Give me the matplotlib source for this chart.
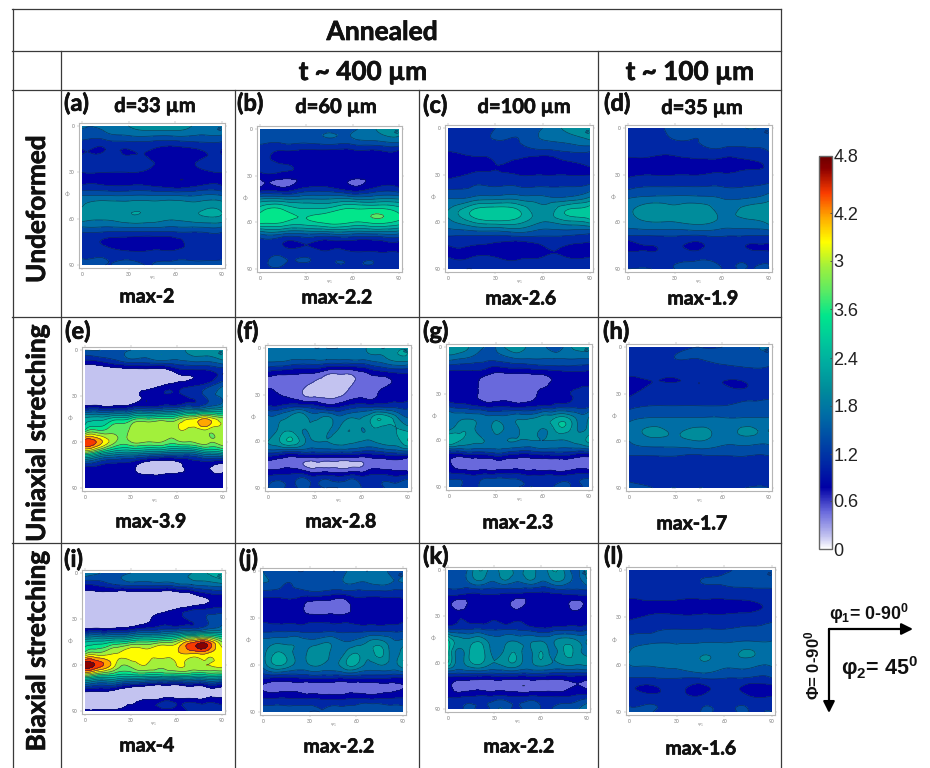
import matplotlib
matplotlib.use('Agg')
import matplotlib.pyplot as plt
import matplotlib.patheffects as pe
import matplotlib.tri as mtri
from matplotlib.cm import ScalarMappable
from matplotlib.colors import LinearSegmentedColormap, Normalize
import numpy as np

plt.rcParams['font.family'] = ['Lato', 'DejaVu Sans']
plt.rcParams['mathtext.default'] = 'regular'

# ----------------------------------------------------------------
# ODF values read by colour against the colour bar, rows are Phi 0-90, columns are phi1 0-90
panel_a = [
    [1.5, 1.6, 1.8, 2.0, 2.0, 1.7, 1.7],
    [1.3, 1.3, 1.4, 1.4, 1.4, 1.4, 1.4],
    [0.9, 0.9, 0.9, 0.9, 0.8, 0.9, 0.9],
    [1.0, 1.1, 1.0, 0.9, 0.8, 0.9, 1.0],
    [0.9, 0.9, 0.9, 0.8, 0.75, 0.8, 0.9],
    [0.85, 0.85, 0.85, 0.8, 0.68, 0.8, 0.85],
    [1.5, 1.5, 1.5, 1.5, 1.5, 1.5, 1.5],
    [1.8, 2.0, 2.0, 2.0, 1.95, 2.0, 2.0],
    [1.9, 1.85, 2.0, 1.95, 1.85, 2.0, 2.0],
    [1.3, 1.3, 1.3, 1.3, 1.3, 1.3, 1.3],
    [1.0, 0.85, 0.75, 0.75, 0.8, 1.0, 1.0],
    [1.1, 1.1, 1.0, 1.0, 1.0, 1.05, 1.1],
    [1.3, 1.2, 1.3, 1.2, 1.3, 1.3, 1.3],
]
panel_b = [
    [1.3, 1.3, 1.4, 1.4, 1.4, 1.8, 1.9],
    [1.3, 1.3, 1.3, 1.4, 1.4, 1.5, 1.6],
    [1.0, 0.85, 0.78, 0.78, 0.78, 0.78, 0.78],
    [1.0, 0.9, 0.78, 0.75, 0.75, 0.75, 0.75],
    [0.75, 0.75, 0.75, 0.75, 0.7, 0.75, 0.75],
    [0.6, 0.6, 0.9, 0.9, 0.65, 0.9, 0.9],
    [1.8, 1.8, 1.8, 1.8, 1.8, 1.8, 1.8],
    [2.6, 2.75, 2.5, 2.6, 2.8, 2.85, 2.6],
    [2.8, 2.7, 2.6, 2.8, 2.7, 2.8, 2.6],
    [1.5, 1.5, 1.5, 1.5, 1.5, 1.5, 1.5],
    [1.0, 0.9, 0.9, 0.8, 0.75, 0.75, 0.75],
    [1.1, 1.2, 1.2, 1.1, 1.1, 1.1, 1.1],
    [1.1, 1.1, 1.0, 1.0, 1.1, 1.1, 1.1],
]
panel_c = [
    [0.9, 1.0, 1.2, 1.3, 1.5, 1.9, 2.0],
    [1.0, 1.1, 1.2, 1.2, 1.5, 1.6, 1.8],
    [0.9, 1.0, 1.0, 1.1, 1.1, 1.2, 1.2],
    [0.65, 0.8, 0.9, 0.8, 0.7, 0.85, 0.95],
    [0.8, 0.95, 0.95, 0.9, 0.9, 0.9, 0.9],
    [1.1, 1.2, 1.2, 1.2, 1.2, 1.2, 1.3],
    [1.5, 1.6, 1.7, 1.7, 1.6, 1.6, 1.9],
    [1.8, 2.4, 2.6, 2.4, 1.9, 2.4, 2.6],
    [1.7, 2.1, 2.3, 2.2, 1.8, 2.0, 2.2],
    [1.3, 1.3, 1.3, 1.4, 1.3, 1.3, 1.2],
    [0.9, 0.9, 0.85, 0.75, 0.9, 0.9, 0.85],
    [0.9, 0.9, 0.9, 0.85, 0.9, 0.9, 0.9],
    [1.0, 0.9, 1.0, 1.0, 1.0, 1.0, 1.0],
]
panel_d = [
    [1.0, 1.1, 1.3, 1.3, 1.3, 1.5, 1.4],
    [1.1, 1.1, 1.2, 1.2, 1.3, 1.3, 1.3],
    [1.0, 1.0, 1.0, 1.1, 1.1, 1.1, 1.2],
    [0.8, 0.8, 0.8, 0.8, 0.8, 0.85, 0.95],
    [0.85, 0.9, 0.9, 0.9, 0.95, 1.0, 1.0],
    [1.1, 1.2, 1.2, 1.2, 1.2, 1.2, 1.3],
    [1.5, 1.6, 1.6, 1.6, 1.5, 1.5, 1.7],
    [1.7, 2.0, 1.9, 2.0, 1.7, 1.9, 2.0],
    [1.6, 1.8, 1.8, 1.9, 1.7, 1.7, 1.9],
    [1.3, 1.3, 1.3, 1.3, 1.3, 1.3, 1.3],
    [0.75, 0.9, 0.95, 0.85, 1.0, 0.9, 0.85],
    [1.1, 1.0, 1.1, 1.1, 1.1, 1.1, 1.1],
    [1.2, 1.2, 1.2, 1.35, 1.2, 1.2, 1.2],
]
panel_e = [
    [1.5, 1.5, 1.4, 1.5, 1.6, 1.7, 1.7, 1.9, 2.0, 2.1],
    [0.8, 0.9, 1.1, 1.3, 1.3, 1.4, 1.4, 1.5, 1.5, 1.7],
    [0.2, 0.2, 0.2, 0.2, 0.2, 0.2, 0.6, 0.7, 0.75, 0.9],
    [0.2, 0.2, 0.2, 0.2, 0.2, 0.5, 0.7, 0.8, 1.0, 1.4],
    [0.2, 0.2, 0.3, 0.4, 0.7, 0.8, 0.8, 1.0, 1.3, 1.6],
    [0.8, 0.8, 0.8, 0.9, 1.0, 1.1, 1.2, 1.4, 1.6, 1.9],
    [2.2, 2.3, 2.6, 2.8, 3.0, 3.1, 3.2, 3.6, 3.9, 3.4],
    [2.8, 3.0, 3.2, 3.4, 3.5, 3.5, 3.5, 3.4, 3.5, 3.5],
    [4.4, 4.0, 3.3, 3.3, 3.3, 3.3, 3.2, 3.3, 3.4, 3.5],
    [3.0, 2.4, 2.0, 1.9, 1.8, 1.7, 1.6, 1.6, 2.0, 2.2],
    [1.0, 0.9, 0.8, 0.75, 0.35, 0.3, 0.45, 0.75, 0.7, 0.5],
    [0.7, 0.7, 0.7, 0.7, 0.7, 0.7, 0.7, 0.7, 0.75, 0.75],
    [0.7, 0.7, 0.7, 0.7, 0.7, 0.7, 0.7, 0.9, 0.7, 0.7],
]
panel_f = [
    [1.7, 1.6, 1.5, 1.7, 1.5, 1.5, 1.5, 1.6, 1.7, 1.9, 1.8, 2.0, 2.0],
    [1.6, 1.6, 1.5, 1.5, 1.5, 1.5, 1.5, 1.5, 1.5, 1.6, 1.7, 1.9, 1.9],
    [0.9, 0.8, 0.75, 0.7, 0.7, 0.5, 0.45, 0.45, 0.6, 0.8, 0.9, 1.0, 1.0],
    [0.45, 0.45, 0.45, 0.4, 0.25, 0.2, 0.2, 0.25, 0.4, 0.45, 0.5, 0.7, 0.85],
    [0.75, 0.6, 0.5, 0.3, 0.2, 0.25, 0.25, 0.4, 0.5, 0.5, 0.75, 0.8, 0.8],
    [0.95, 0.95, 1.1, 1.1, 1.0, 0.8, 0.8, 1.0, 1.1, 1.1, 1.1, 1.1, 1.1],
    [1.6, 1.7, 1.9, 2.0, 1.7, 1.9, 1.6, 1.8, 1.8, 2.2, 2.3, 1.9, 1.5],
    [1.5, 1.9, 2.0, 1.8, 2.0, 1.9, 1.8, 2.1, 1.8, 2.0, 1.9, 2.1, 2.0],
    [1.8, 2.1, 2.4, 1.9, 1.8, 1.8, 1.9, 1.9, 1.8, 1.8, 1.9, 2.0, 2.4],
    [1.2, 1.1, 1.0, 1.1, 1.1, 1.1, 1.1, 1.1, 1.0, 1.0, 1.1, 1.2, 1.2],
    [0.5, 0.45, 0.45, 0.3, 0.2, 0.2, 0.2, 0.2, 0.25, 0.45, 0.45, 0.45, 0.3],
    [0.9, 1.0, 1.0, 1.1, 0.9, 1.0, 0.9, 1.0, 0.9, 1.0, 1.0, 0.9, 1.0],
    [1.2, 1.3, 1.1, 1.3, 1.1, 1.2, 1.2, 1.3, 1.2, 1.1, 1.2, 1.3, 1.3],
]
panel_g = [
    [2.0, 2.0, 1.7, 1.5, 1.5, 1.9, 2.0, 1.7, 1.6, 1.3, 1.6, 1.9, 1.9],
    [1.6, 1.5, 1.4, 1.3, 1.3, 1.4, 1.5, 1.5, 1.5, 1.5, 1.5, 1.5, 1.5],
    [0.9, 0.9, 0.9, 0.85, 0.7, 0.75, 0.75, 0.8, 0.85, 0.9, 0.95, 0.95, 0.9],
    [0.75, 0.75, 0.75, 0.45, 0.4, 0.35, 0.35, 0.4, 0.45, 0.65, 0.7, 0.75, 0.75],
    [0.7, 0.7, 0.7, 0.45, 0.4, 0.45, 0.4, 0.45, 0.7, 0.8, 0.85, 0.95, 1.0],
    [1.1, 1.0, 0.9, 0.8, 0.8, 0.8, 0.75, 0.8, 0.9, 0.95, 1.0, 1.05, 1.1],
    [1.7, 1.7, 1.7, 1.6, 1.6, 1.6, 1.7, 1.7, 1.9, 2.0, 2.1, 1.7, 1.8],
    [1.7, 2.0, 1.9, 1.6, 1.9, 1.7, 1.8, 2.0, 1.8, 2.1, 2.3, 1.8, 1.9],
    [2.4, 2.1, 1.9, 1.8, 1.7, 1.8, 1.8, 1.8, 1.8, 1.8, 1.8, 1.9, 2.2],
    [1.0, 1.1, 1.2, 1.2, 1.3, 1.2, 1.1, 1.1, 1.2, 1.2, 1.2, 1.1, 1.1],
    [0.7, 0.35, 0.35, 0.4, 0.4, 0.4, 0.4, 0.4, 0.4, 0.4, 0.4, 0.4, 0.4],
    [1.0, 1.0, 0.9, 1.0, 1.0, 1.0, 1.0, 0.9, 0.9, 0.9, 0.9, 1.0, 1.0],
    [1.5, 1.2, 1.0, 1.4, 1.4, 1.4, 1.2, 1.2, 1.1, 1.2, 1.3, 1.1, 1.4],
]
panel_h = [
    [1.1, 1.1, 1.1, 1.2, 1.2, 1.4, 1.5],
    [1.1, 1.1, 1.2, 1.2, 1.3, 1.4, 1.4],
    [1.0, 1.0, 1.0, 1.05, 1.05, 1.1, 1.1],
    [0.8, 0.9, 0.9, 0.9, 0.9, 0.9, 1.0],
    [0.85, 1.0, 1.0, 1.0, 1.0, 1.0, 1.05],
    [1.1, 1.2, 1.2, 1.2, 1.2, 1.3, 1.4],
    [1.4, 1.5, 1.5, 1.5, 1.5, 1.5, 1.5],
    [1.6, 1.85, 1.75, 1.85, 1.7, 1.85, 1.8],
    [1.5, 1.7, 1.7, 1.8, 1.6, 1.65, 1.6],
    [1.3, 1.3, 1.3, 1.3, 1.3, 1.3, 1.3],
    [0.95, 1.05, 1.05, 0.95, 1.0, 1.05, 0.95],
    [1.1, 1.1, 1.1, 1.1, 1.1, 1.1, 1.1],
    [1.3, 1.2, 1.2, 1.2, 1.1, 1.2, 1.2],
]
panel_i = [
    [1.8, 1.5, 1.4, 1.5, 1.6, 1.6, 1.7, 1.8, 2.1, 2.4],
    [0.9, 1.0, 1.2, 1.3, 1.3, 1.3, 1.4, 1.5, 1.6, 1.7],
    [0.4, 0.4, 0.2, 0.2, 0.2, 0.2, 0.2, 0.4, 0.7, 0.8],
    [0.2, 0.2, 0.2, 0.2, 0.2, 0.3, 0.5, 0.7, 0.8, 0.9],
    [0.2, 0.2, 0.2, 0.3, 0.5, 0.75, 0.75, 1.0, 1.2, 1.4],
    [0.8, 0.85, 0.9, 1.0, 1.2, 1.3, 1.4, 1.5, 1.7, 1.9],
    [2.4, 2.5, 2.7, 2.9, 3.0, 3.2, 3.4, 4.1, 4.3, 3.3],
    [3.2, 3.4, 3.6, 3.8, 3.7, 3.8, 3.8, 3.9, 3.9, 3.7],
    [4.7, 4.3, 3.6, 3.4, 3.6, 3.4, 3.6, 3.5, 3.6, 3.7],
    [3.0, 2.6, 2.5, 2.4, 2.4, 2.4, 2.4, 2.4, 2.4, 2.4],
    [1.0, 0.9, 0.8, 0.5, 0.3, 0.2, 0.2, 0.4, 0.5, 0.5],
    [0.3, 0.2, 0.2, 0.4, 0.6, 0.7, 0.7, 0.7, 0.7, 0.7],
    [0.7, 0.7, 0.7, 0.7, 0.7, 0.7, 0.7, 1.0, 1.0, 1.0],
]
panel_j = [
    [1.5, 1.3, 1.5, 1.2, 1.3, 1.3, 1.2, 1.4, 1.7, 1.5, 1.8, 1.3, 1.4],
    [1.5, 1.4, 1.2, 1.3, 1.4, 1.4, 1.4, 1.5, 1.5, 1.5, 1.6, 1.5, 1.5],
    [1.0, 1.0, 1.0, 1.0, 1.0, 1.0, 0.9, 0.9, 1.0, 1.0, 1.0, 1.0, 1.0],
    [0.75, 0.75, 0.75, 0.75, 0.45, 0.4, 0.4, 0.4, 0.75, 0.75, 0.75, 0.8, 0.85],
    [0.85, 0.8, 0.8, 0.8, 0.75, 0.75, 0.75, 0.75, 0.75, 0.8, 0.8, 0.8, 0.85],
    [1.1, 1.1, 1.1, 1.1, 1.1, 1.1, 1.1, 1.1, 1.1, 1.1, 1.1, 1.1, 1.15],
    [1.6, 1.7, 1.7, 1.7, 1.6, 1.7, 1.7, 1.5, 1.6, 1.8, 1.9, 1.6, 1.6],
    [1.7, 2.1, 2.0, 1.7, 1.9, 2.0, 1.7, 1.8, 2.1, 1.9, 2.2, 1.7, 2.0],
    [1.6, 2.1, 2.0, 1.7, 1.8, 1.8, 1.7, 2.0, 2.1, 1.7, 1.8, 1.7, 2.0],
    [1.0, 1.0, 0.95, 1.0, 1.05, 1.05, 1.05, 1.05, 1.05, 1.05, 1.05, 1.0, 1.0],
    [0.55, 0.45, 0.5, 0.5, 0.4, 0.4, 0.4, 0.4, 0.45, 0.4, 0.45, 0.5, 0.6],
    [1.0, 1.0, 1.0, 1.0, 1.0, 0.95, 0.95, 0.95, 1.0, 1.0, 1.0, 1.0, 1.0],
    [1.3, 1.3, 1.3, 1.3, 1.2, 1.2, 1.3, 1.3, 1.3, 1.5, 1.4, 1.3, 1.3],
]
panel_k = [
    [1.5, 1.3, 1.7, 2.1, 1.6, 2.1, 1.6, 2.0, 1.6, 2.1, 1.8, 1.4, 2.0],
    [1.4, 1.3, 1.6, 1.7, 1.5, 1.7, 1.5, 1.7, 1.5, 1.7, 1.7, 1.4, 1.7],
    [1.0, 1.0, 0.9, 0.95, 0.95, 0.9, 0.9, 0.85, 0.85, 0.9, 0.95, 1.0, 1.0],
    [0.7, 0.45, 0.7, 0.7, 0.7, 0.7, 0.5, 0.7, 0.7, 0.7, 0.7, 0.5, 0.7],
    [0.8, 0.85, 0.8, 0.75, 0.85, 0.7, 0.8, 0.75, 0.7, 0.7, 0.7, 0.75, 0.8],
    [1.1, 1.1, 1.1, 1.1, 1.1, 1.1, 1.1, 1.0, 0.9, 0.95, 1.0, 1.0, 1.05],
    [2.4, 1.9, 1.9, 1.9, 1.6, 1.7, 1.7, 1.7, 1.7, 1.7, 1.9, 1.8, 1.8],
    [2.5, 1.7, 2.2, 2.2, 1.7, 1.9, 2.0, 1.7, 2.1, 1.7, 2.1, 2.0, 1.7],
    [2.4, 1.7, 2.1, 2.1, 1.8, 2.0, 2.0, 1.7, 2.0, 1.8, 1.9, 1.9, 1.9],
    [1.1, 1.1, 1.1, 1.1, 1.1, 1.1, 1.1, 1.1, 1.1, 1.05, 1.05, 1.05, 1.05],
    [0.8, 0.4, 0.45, 0.4, 0.4, 0.4, 0.35, 0.35, 0.4, 0.4, 0.45, 0.6, 0.5],
    [0.9, 0.9, 0.95, 1.0, 1.0, 1.0, 0.95, 1.0, 0.95, 0.95, 0.95, 1.0, 1.1],
    [1.0, 1.1, 1.3, 1.0, 1.4, 1.4, 1.1, 1.4, 1.2, 1.2, 1.3, 1.4, 1.8],
]
panel_l = [
    [0.95, 1.0, 1.0, 1.0, 1.1, 1.4, 1.4],
    [1.05, 1.05, 1.1, 1.2, 1.25, 1.3, 1.3],
    [1.0, 1.0, 1.0, 1.0, 1.0, 1.05, 1.1],
    [0.75, 0.85, 0.85, 0.85, 0.85, 0.85, 0.95],
    [0.85, 0.95, 0.95, 0.95, 0.95, 1.0, 1.05],
    [1.05, 1.15, 1.2, 1.2, 1.2, 1.25, 1.4],
    [1.35, 1.4, 1.45, 1.45, 1.45, 1.5, 1.5],
    [1.5, 1.75, 1.6, 1.75, 1.7, 1.85, 1.75],
    [1.5, 1.55, 1.6, 1.75, 1.6, 1.6, 1.55],
    [1.25, 1.25, 1.25, 1.3, 1.25, 1.25, 1.25],
    [0.95, 0.85, 1.0, 0.8, 1.0, 0.8, 0.8],
    [1.05, 1.1, 1.1, 1.05, 1.1, 1.05, 1.05],
    [1.3, 1.2, 1.2, 1.2, 1.15, 1.2, 1.2],
]

panel_tags = ['(a)', '(b)', '(c)', '(d)', '(e)', '(f)', '(g)', '(h)', '(i)', '(j)', '(k)', '(l)']
max_labels = ['max-2', 'max-2.2', 'max-2.6', 'max-1.9', 'max-3.9', 'max-2.8',
              'max-2.3', 'max-1.7', 'max-4', 'max-2.2', 'max-2.2', 'max-1.6']
grain_labels = ['d=33 µm', 'd=60 µm', 'd=100 µm', 'd=35 µm']
row_labels = ['Undeformed', 'Uniaxial stretching', 'Biaxial stretching']
# the bar's top interval is longer than the others in the picture
bar_ticks = [0, 0.59, 1.16, 1.75, 2.33, 2.93, 3.52, 4.10, 4.8]
bar_tick_labels = ['0', '0.6', '1.2', '1.8', '2.4', '3.6', '3', '4.2', '4.8']  # order as printed on the bar
angle_ticks = [0, 30, 60, 90]

# ----------------------------------------------------------------
# layout in pixels of the picture
W, H = 930, 768
panel_boxes = [
    (82, 126, 222, 265), (260, 129, 399, 269), (448, 128, 590, 269), (628, 128, 769, 269),
    (85, 350, 223, 488), (268, 348, 408, 488), (449, 347, 589, 487), (629, 347, 769, 488),
    (85, 573, 222, 711), (263, 571, 403, 712), (448, 570, 587, 709), (629, 570, 772, 712),
]
tag_pos = [(64, 103), (237, 103), (423, 105), (604, 103), (65, 331), (237, 331),
           (423, 331), (603, 331), (64, 559), (239, 559), (423, 556), (604, 556)]
max_pos = [(147, 296), (337, 297), (521, 298), (703, 298), (151, 521), (341, 521),
           (518, 522), (692, 523), (147, 745), (339, 746), (519, 746), (701, 748)]
grain_pos = [(155, 106), (336, 107), (524, 107), (702, 108)]
row_pos = [(37, 209), (37, 433), (37, 651)]
line_col = '#3a3a3a'
merged_low = [4, 8]  # panels e and i have a single pale band under the navy

band_levels = np.arange(0, 4.81, 0.3)
cmap_nodes = [
    (0.0, '#ffffff'), (0.15, '#c3c3f0'), (0.45, '#6969dc'), (0.75, '#0000a5'), (1.05, '#0028a5'),
    (1.35, '#004ba5'), (1.65, '#006ea5'), (1.95, '#008c9b'), (2.25, '#00aaa0'), (2.55, '#00c89b'),
    (2.85, '#00e68c'), (3.15, '#5aeb64'), (3.45, '#a0f03c'), (3.75, '#ffff00'), (4.05, '#ffaa00'),
    (4.35, '#fa3c00'), (4.65, '#8c0000'), (4.8, '#6e0000'),
]
odf_cmap = LinearSegmentedColormap.from_list('odf', [(v / 4.8, c) for v, c in cmap_nodes], N=512)
odf_norm = Normalize(0, 4.8)


def box_axes(fig, x0, y0, x1, y1, **kw):
    return fig.add_axes([x0 / W, 1 - y1 / H, (x1 - x0) / W, (y1 - y0) / H], **kw)


def drawPanel(fig, box, values, merge_low):
    x0, y0, x1, y1 = box
    z = np.array(values, dtype=float)
    ax = box_axes(fig, x0 - 3, y0 - 3, x1 + 3, y1 + 3)
    phi1 = np.linspace(0, 90, z.shape[1])
    phi = np.linspace(0, 90, z.shape[0])
    gx, gy = np.meshgrid(phi1, phi)
    tri = mtri.Triangulation(gx.ravel(), gy.ravel())
    fine_tri, fine_z = mtri.UniformTriRefiner(tri).refine_field(z.ravel(), subdiv=3)
    fine_z = np.clip(fine_z, 0.05, 4.79)

    levels = band_levels
    band_colors = [odf_cmap(odf_norm(v)) for v in (levels[:-1] + levels[1:]) / 2]
    if merge_low:
        levels = np.delete(levels, 1)
        band_colors = band_colors[:1] + band_colors[2:]
    ax.tricontourf(fine_tri, fine_z, levels=levels, colors=band_colors)
    ax.tricontour(fine_tri, fine_z, levels=levels[1:-1], colors='#10204a', linewidths=0.45, alpha=0.8)
    ax.set_xlim(-2, 92)
    ax.set_ylim(92, -2)
    ax.set_xticks(angle_ticks)
    ax.set_yticks(angle_ticks)
    ax.tick_params(length=1.2, width=0.3, color='#999999', labelsize=3.6, labelcolor='#777777', pad=2,
                   top=True, right=True)
    for s in ax.spines.values():
        s.set_color('#b5b5b5')
        s.set_linewidth(0.8)
    ax.text(88.5, 2.5, '45', fontsize=3.5, color='#10204a', ha='center', va='center')
    ax.text(45, 98.5, r'$\varphi_1$', fontsize=3.2, color='#888888', ha='center', va='center', clip_on=False)
    ax.text(-9.5, 45, '\u03a6', fontsize=4, color='#888888', ha='center', va='center', clip_on=False)


# ----------------------------------------------------------------
def showFigure():
    fig = plt.figure(figsize=(9.3, 7.68), dpi=100)
    bg = fig.add_axes([0, 0, 1, 1])
    bg.set_xlim(0, W)
    bg.set_ylim(H, 0)
    bg.axis('off')

    # table rules
    for y, a, b in [(9, 12, 781), (51, 12, 781), (90, 12, 781), (317, 12, 781), (543, 12, 781)]:
        bg.plot([a, b], [y, y], color=line_col, lw=0.9)
    for x, a, b in [(13, 9, 768), (61, 51, 768), (235, 90, 768), (419, 90, 768), (598, 51, 768), (781, 9, 768)]:
        bg.plot([x, x], [a, b], color=line_col, lw=0.9)

    # Lato bold is lighter than the reference's face, so thicken it a little
    heavy = [pe.withStroke(linewidth=0.5, foreground='#111111')]
    bold = dict(fontweight='bold', color='#111111', ha='center', va='center', path_effects=heavy)
    bg.text(382, 32, 'Annealed', fontsize=19, **bold)
    bg.text(363, 72, 't ~ 400 µm', fontsize=18.8, **bold)
    bg.text(690, 72, 't ~ 100 µm', fontsize=18.8, **bold)
    for label, pos in zip(row_labels, row_pos):
        bg.text(pos[0], pos[1], label, fontsize=18.8, rotation=90, **bold)
    for label, pos in zip(grain_labels, grain_pos):
        bg.text(pos[0], pos[1], label, fontsize=14.5, **bold)
    for label, pos in zip(panel_tags, tag_pos):
        bg.text(pos[0], pos[1], label, fontsize=17, fontweight='bold', color='#111111',
                ha='left', va='center', path_effects=heavy)
    for label, pos in zip(max_labels, max_pos):
        bg.text(pos[0], pos[1] + 1, label, fontsize=14, **bold)

    all_panels = [panel_a, panel_b, panel_c, panel_d, panel_e, panel_f,
                  panel_g, panel_h, panel_i, panel_j, panel_k, panel_l]
    for i, (box, values) in enumerate(zip(panel_boxes, all_panels)):
        drawPanel(fig, box, values, i in merged_low)

    # colour bar
    cax = box_axes(fig, 819, 156, 832, 549)
    cb = fig.colorbar(ScalarMappable(norm=odf_norm, cmap=odf_cmap), cax=cax)
    cb.set_ticks(bar_ticks)
    cb.set_ticklabels(bar_tick_labels, family='Liberation Sans', fontsize=13, color='#222222')
    cb.ax.tick_params(length=1.5, width=0.6, pad=1, direction='in', color='#444444')
    cb.outline.set_edgecolor('#666666')
    cb.outline.set_linewidth(1.0)

    # orientation key
    arrow = dict(arrowstyle='-|>', color='black', lw=1.6, mutation_scale=17, shrinkA=0, shrinkB=0)
    bg.annotate('', xy=(913, 629), xytext=(829, 629), arrowprops=arrow)
    bg.annotate('', xy=(829, 713), xytext=(829, 629), arrowprops=arrow)
    key = dict(family='Liberation Sans', fontweight='bold', color='#111111', va='center')
    bg.text(829, 614, '\u03c6$_1$= 0-90$^0$', fontsize=12.8, ha='left', **key)
    bg.text(841, 668, '\u03c6$_2$= 45$^0$', fontsize=15.5, ha='left', **key)
    bg.text(812, 665, '\u03a6= 0-90$^0$', fontsize=12, ha='center', rotation=90, **key)

    fig.savefig('out.png', dpi=100)
# ----------------------------------------------------------------

showFigure()
